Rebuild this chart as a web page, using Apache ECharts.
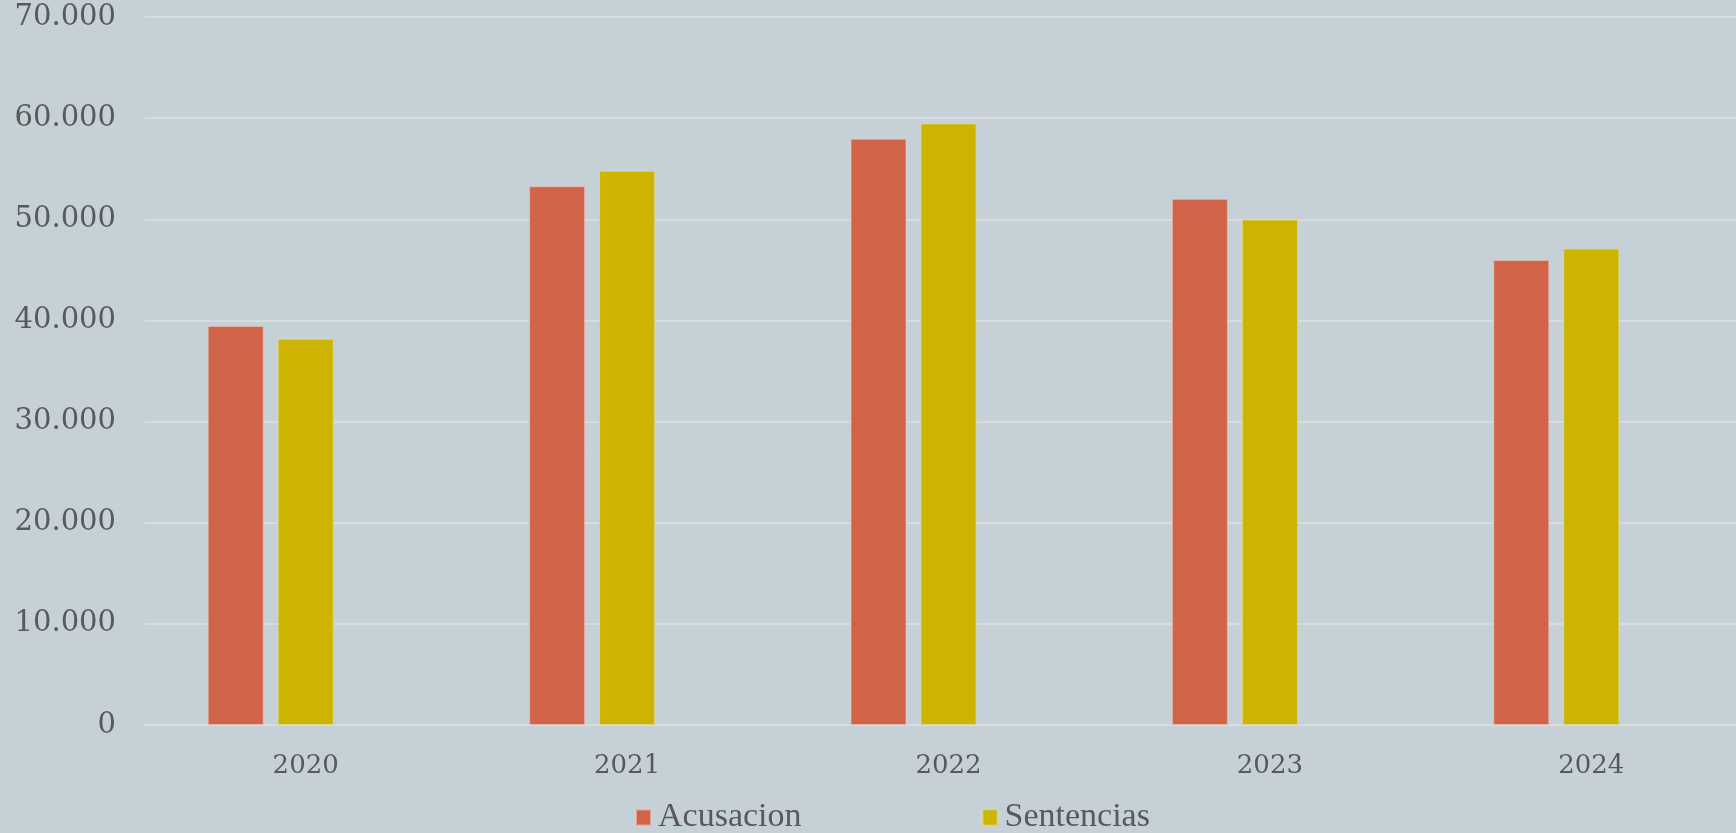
<!DOCTYPE html>
<html>
<head>
<meta charset="utf-8">
<script src="https://cdn.jsdelivr.net/npm/echarts@6/dist/echarts.min.js"></script>
<style>
html,body{margin:0;padding:0;background:#c6d1d7;overflow:hidden;}
#chart{width:1752px;height:833px;}
</style>
</head>
<body>
<div id="chart"></div>
<script>
const categories = ['2020', '2021', '2022', '2023', '2024'];
const acusacion = [39450, 53270, 57960, 52020, 45970];
const sentencias = [38190, 54790, 59470, 49970, 47100];
const emptySeries = [null, null, null, null, null];
const yTicks = [0, 10000, 20000, 30000, 40000, 50000, 60000, 70000];

function fmt(v) {
  return String(v).replace(/\B(?=(\d{3})+(?!\d))/g, '.');
}

const chart = echarts.init(document.getElementById('chart'));
chart.setOption({
  backgroundColor: '#c6d1d7',
  animation: false,
  grid: { left: 145, top: 17, right: 0, height: 708, containLabel: false },
  legend: {
    data: ['Acusacion', 'Sentencias'],
    left: 630,
    top: 795,
    itemWidth: 15,
    itemHeight: 16,
    itemGap: 180,
    icon: 'rect',
    textStyle: { fontFamily: 'Liberation Serif', fontSize: 34, color: '#595959', padding: [0, 0, 0, 2], lineHeight: 35 }
  },
  xAxis: {
    type: 'category',
    data: categories,
    axisLine: { show: true, lineStyle: { color: '#d9dbdc', width: 2 } },
    axisTick: { show: false },
    axisLabel: { fontFamily: 'DejaVu Serif', fontSize: 26, color: '#595959', margin: 28 }
  },
  yAxis: {
    type: 'value',
    min: yTicks[0],
    max: yTicks[yTicks.length - 1],
    interval: yTicks[1] - yTicks[0],
    axisLine: { show: false },
    axisTick: { show: false },
    splitLine: { lineStyle: { color: '#d9dbdc', width: 2 } },
    axisLabel: { fontFamily: 'DejaVu Serif', fontSize: 29, color: '#595959', margin: 29, formatter: fmt }
  },
  series: [
    {
      name: 'Acusacion', type: 'bar', data: acusacion, barWidth: 56, barGap: '25%',
      itemStyle: { color: '#d16349', borderColor: 'rgba(235,200,190,0.6)', borderWidth: 1 }
    },
    {
      name: 'Sentencias', type: 'bar', data: sentencias, barWidth: 56, barGap: '25%',
      itemStyle: { color: '#ccb400', borderColor: 'rgba(230,220,150,0.6)', borderWidth: 1 }
    },
    {
      name: 'Serie3', type: 'bar', data: emptySeries, barWidth: 56, barGap: '25%',
      itemStyle: { color: '#8c9ea8' }
    }
  ]
});
</script>
</body>
</html>
